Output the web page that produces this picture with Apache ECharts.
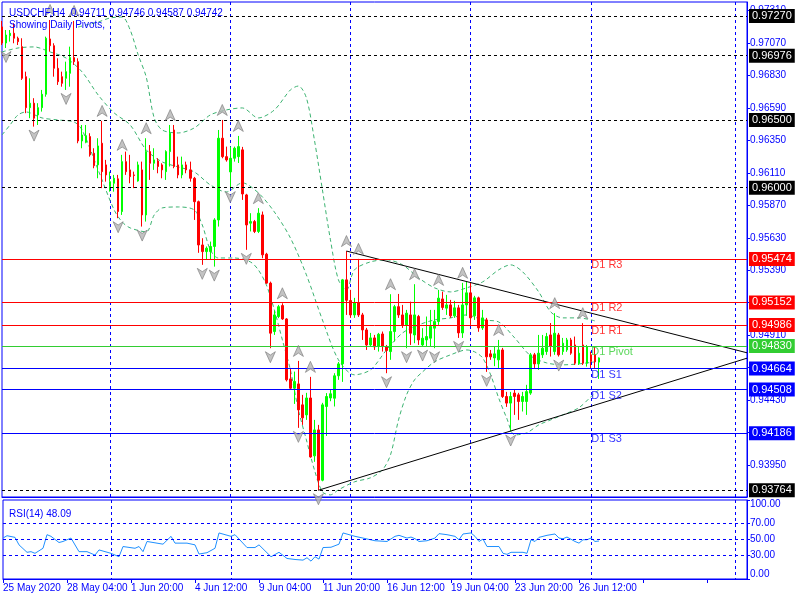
<!DOCTYPE html>
<html><head><meta charset="utf-8">
<script src="https://cdn.jsdelivr.net/npm/echarts@6/dist/echarts.min.js"></script>
<style>html,body{margin:0;padding:0;background:#fff}#c{width:800px;height:600px}</style>
</head><body><div id="c"></div>
<script>
// ---------- DATA ----------
const opens=[.97189,.97070,.97124,.97142,.97105,.97043,.96821,.96592,.96625,.96538,.96592,.96691,.97100,.97050,.96883,.96821,.96809,.96846,.96962,.96932,
.96346,.96336,.96378,.96255,.96169,.96329,.96169,.96008,.96033,.96066,.95824,.96193,.96132,.96095,.96050,.96132,.95799,.96267,.96181,.96198,
.96169,.96119,.96267,.96427,.96169,.96095,.96169,.96132,.96070,.95897,.95577,.95528,.95528,.95566,.95762,.96366,.96230,.96117,.96218,.96230,
.96280,.95947,.95738,.95750,.95677,.95799,.95509,.95295,.94937,.95048,.95129,.95030,.94587,.94518,.94550,.94395,.94321,.94446,.94018,.94210,
.93838,.94383,.94446,.94444,.94610,.94698,.95319,.95166,.95060,.95149,.95060,.94949,.94838,.94890,.94826,.94919,.94826,.94789,.94937,.95121,
.95060,.94986,.95060,.94912,.95048,.94838,.94875,.94888,.94962,.95011,.95178,.95110,.95134,.95053,.95112,.94927,.95134,.95223,.95053,.95186,
.94964,.95023,.94772,.94742,.94728,.94801,.94457,.94408,.94482,.94469,.94420,.94420,.94482,.94765,.94698,.94765,.94789,.94912,.94789,.94912,
.94789,.94801,.94875,.94838,.94703,.94838,.94703,.94765,.94765,.94711];
const highs=[.97233,.97166,.97166,.97216,.97117,.97105,.96858,.96809,.96662,.96625,.96723,.97117,.97240,.97068,.96957,.96858,.96932,.97043,.97233,.96957,
.96464,.96464,.96403,.96292,.96366,.96494,.96206,.96119,.96095,.96095,.96243,.96267,.96243,.96119,.96193,.96193,.96366,.96316,.96292,.96218,
.96181,.96277,.96464,.96464,.96230,.96230,.96193,.96193,.96080,.95905,.95627,.95566,.95602,.95775,.96427,.96501,.96304,.96304,.96304,.96383,
.96302,.95955,.95812,.95762,.95849,.95824,.95519,.95306,.95090,.95134,.95146,.95036,.94666,.94641,.94720,.94469,.94484,.94602,.94284,.94247,
.94410,.94482,.94506,.94629,.94712,.95326,.95532,.95245,.95186,.95474,.95075,.94964,.94927,.94912,.94927,.94937,.94838,.95213,.95134,.95215,
.95134,.95097,.95158,.95287,.95060,.94962,.95048,.95097,.95097,.95245,.95232,.95208,.95171,.95164,.95134,.95297,.95304,.95297,.95201,.95195,
.95097,.95038,.94801,.94824,.94875,.94816,.94491,.94491,.94506,.94484,.94491,.94543,.94779,.94779,.94912,.94912,.94927,.95000,.95073,.94927,
.94890,.94890,.94890,.94900,.94826,.94999,.94838,.94789,.94824,.94746];
const lows=[.97055,.97033,.97080,.97068,.97055,.96797,.96551,.96514,.96452,.96464,.96563,.96673,.97006,.96821,.96760,.96747,.96723,.96747,.96908,.96329,
.96292,.96329,.96230,.96144,.96070,.95997,.96045,.95971,.95971,.95775,.95799,.96095,.96033,.95997,.96045,.95713,.95750,.96058,.96132,.96107,
.96070,.96058,.96157,.96144,.96070,.96070,.96107,.96045,.95762,.95519,.95430,.95467,.95467,.95417,.95713,.96218,.96193,.95997,.96193,.96183,
.95910,.95541,.95677,.95665,.95665,.95479,.95290,.94814,.94912,.95036,.95023,.94568,.94506,.94402,.94225,.94247,.94284,.94004,.93974,.93764,
.93830,.94165,.94422,.94383,.94580,.94565,.95060,.95038,.95038,.95045,.94875,.94801,.94824,.94801,.94789,.94789,.94629,.94728,.94863,.95038,
.94964,.94814,.94838,.94851,.94838,.94826,.94826,.94826,.94814,.94986,.95097,.95060,.95038,.95038,.94890,.94890,.95053,.94986,.95023,.94935,
.94949,.94639,.94728,.94681,.94668,.94446,.94380,.94198,.94321,.94284,.94346,.94321,.94469,.94668,.94654,.94742,.94765,.94752,.94765,.94752,
.94765,.94787,.94765,.94690,.94690,.94690,.94678,.94666,.94668,.94587];
const closes=[.97070,.97129,.97142,.97105,.97080,.96809,.96592,.96625,.96514,.96592,.96691,.97105,.97050,.96883,.96784,.96772,.96858,.96962,.96932,.96346,
.96390,.96385,.96243,.96163,.96309,.96119,.96095,.96045,.96070,.95824,.96193,.96119,.96082,.96090,.96169,.95799,.96267,.96181,.96206,.96157,
.96132,.96267,.96403,.96157,.96095,.96169,.96132,.96070,.95897,.95577,.95528,.95553,.95566,.95762,.96366,.96230,.96206,.96218,.96292,.96304,
.95954,.95725,.95750,.95677,.95812,.95504,.95295,.94925,.95060,.95121,.95030,.94580,.94518,.94568,.94358,.94299,.94446,.94010,.94210,.93838,
.94395,.94457,.94477,.94610,.94698,.95319,.95168,.95060,.95149,.95060,.94949,.94838,.94890,.94824,.94917,.94826,.94797,.94937,.95121,.95060,
.94986,.95073,.94925,.95060,.94875,.94888,.94900,.94974,.95011,.95184,.95115,.95134,.95053,.95112,.94927,.95134,.95223,.95038,.95186,.94964,
.95038,.94750,.94750,.94772,.94801,.94457,.94408,.94457,.94457,.94420,.94457,.94493,.94765,.94698,.94777,.94814,.94900,.94826,.94925,.94765,
.94851,.94875,.94777,.94703,.94777,.94703,.94826,.94715,.94713,.94742];

const slotCount = 187;
const xTickLabels=['25 May 2020','28 May 04:00','1 Jun 20:00','4 Jun 12:00','9 Jun 04:00','11 Jun 20:00','16 Jun 12:00','19 Jun 04:00','23 Jun 20:00','26 Jun 12:00'];
const separatorBars=[27,57,87,117,147,183];
const priceTicks=[0.97310,0.97070,0.96830,0.96590,0.96350,0.96110,0.95870,0.95630,0.95390,0.95150,0.94910,0.94670,0.94430,0.94190,0.93950];
const rsiTicks=[100,70,50,30,0];
const rsiLevels=[70,50,30];

const blackLevels=[0.97270,0.96976,0.96500,0.96000,0.93764];
const resistLevels=[0.95474,0.95152,0.94986];
const pivotLevel=[0.94830];
const supportLevels=[0.94664,0.94508,0.94186];
const resistNames=['D1 R3','D1 R2','D1 R1'];
const pivotNames=['D1 Pivot'];
const supportNames=['D1 S1','D1 S2','D1 S3'];
const pivotLabelBar=147;

const upperTrend=[[86,0.95532],[186,0.94780]];
const lowerTrend=[[79,0.93764],[186,0.94740]];

const fractalUpBars=[12,18,25,30,36,42,55,59,64,70,74,77,86,89,97,103,109,115,124,138,145];
const fractalDownBars=[1,8,16,29,35,50,53,57,61,67,74,79,96,101,105,108,114,121,127,139];

const bbUpper=[[19,.97188],[21,.97203],[24,.97225],[27,.97255],[30,.97262],[32,.97166],[34,.96982],[36,.96819],[38,.96516],[40,.96427],[44,.96405],[48,.96442],[52,.96538],[56,.96575],[60,.96590],[64,.96516],[68,.96575],[72,.96723],[74,.96752],[76,.96664],[78,.96353],[80,.95984],[82,.95615],[84,.95319],[86,.95245],[88,.95393],[92,.95452],[96,.95467],[100,.95430],[104,.95334],[108,.95260],[112,.95230],[116,.95260],[120,.95304],[124,.95393],[127,.95430],[130,.95378],[134,.95230],[137,.95082],[140,.95038],[144,.95038],[148,.95016]];
const bbMiddle=[[0,.97004],[4,.97033],[8,.97041],[12,.97004],[16,.96959],[20,.96856],[24,.96686],[28,.96553],[32,.96464],[36,.96280],[40,.96191],[44,.96154],[48,.96117],[52,.96021],[56,.95969],[60,.96036],[64,.95962],[68,.95821],[72,.95629],[76,.95356],[80,.95023],[84,.94728],[88,.94617],[92,.94654],[96,.94801],[100,.94927],[104,.94986],[108,.95023],[112,.95038],[116,.95060],[120,.95023],[124,.95008],[128,.94890],[132,.94757],[136,.94705],[140,.94691],[144,.94698],[148,.94713]];
const bbLower=[[0,.96390],[2,.96464],[4,.96538],[6,.96560],[10,.96516],[14,.96501],[18,.96486],[20,.96427],[24,.96132],[28,.95836],[30,.95747],[32,.95703],[36,.95674],[38,.95799],[40,.95851],[44,.95858],[48,.95836],[50,.95725],[52,.95541],[54,.95481],[58,.95481],[62,.95452],[64,.95393],[66,.95282],[68,.95097],[70,.94875],[72,.94654],[74,.94358],[76,.94136],[78,.93915],[80,.93752],[82,.93730],[84,.93767],[88,.93826],[92,.93856],[95,.93915],[97,.94026],[99,.94284],[101,.94469],[103,.94580],[105,.94639],[108,.94713],[112,.94765],[116,.94801],[118,.94787],[120,.94742],[122,.94617],[124,.94446],[126,.94298],[128,.94173],[131,.94188],[134,.94247],[137,.94284],[140,.94321],[144,.94373],[147,.94454],[149,.94506]];

const rsiValues=[[0,51.8],[1,54.8],[3,52.7],[4,43.2],[6,33.8],[7,34.6],[8,32.5],[10,38.9],[11,56.1],[12,54],[14,46.2],[15,47.5],[17,51.8],[19,34.6],[21,34.6],[23,30.3],[24,36.8],[27,32.5],[29,28.2],[30,41.1],[33,38.9],[34,41.1],[35,34.6],[36,47.5],[40,44.1],[42,54],[43,45.4],[46,45.4],[48,43.2],[49,31.6],[51,33.3],[53,38.9],[54,58.3],[57,54],[58,56.1],[61,39.8],[63,39.8],[64,43.2],[67,28.2],[69,33.8],[71,26],[73,24.7],[75,23.9],[76,26.9],[77,22.6],[78,28.2],[79,25.2],[80,39.8],[82,40.2],[84,44.1],[85,58.3],[88,54],[90,51.8],[93,48.4],[96,47.5],[98,54],[99,55.3],[101,51.8],[102,53.1],[103,51],[104,47.5],[106,48.4],[108,51.8],[109,57.4],[111,56.1],[113,54],[114,49.7],[115,57],[117,58.3],[118,54],[119,47.5],[120,50.5],[121,41.1],[124,41.1],[125,32.5],[126,31.2],[127,33.8],[130,33.8],[131,32.5],[132,49.7],[133,47.5],[134,52.7],[136,55.3],[138,57],[139,51.8],[140,51],[141,53.1],[143,47.5],[144,45.4],[145,49.7],[146,49.7],[147,51.8],[148,47.5],[149,48.09]];

const headerText='USDCHF,H4  0.94711 0.94746 0.94587 0.94742';
const subHeaderText='Showing Daily Pivots,';
const rsiTitle='RSI(14) 48.09';

// ---------- STYLE ----------
const BLUE='#0000ff', RED='#ff0000', GREEN='#32cd32', BAND='#3cb371';
const FONT='Liberation Sans, Arial, sans-serif';
const FS=10;
const cats=Array.from({length:slotCount},(_,i)=>String(i));
const candleData=opens.map((o,i)=>[o,closes[i],lows[i],highs[i]]);

function levelLine(v,color,dashed){
  return {yAxis:v,lineStyle:{color:color,width:1,type:dashed?[3,3]:'solid'},
    label:{show:true,position:'end',distance:2,formatter:()=>v.toFixed(5),color:'#fff',backgroundColor:color,
      padding:[1,3,1,3],fontSize:11,lineHeight:12,fontFamily:FONT}};
}
const markData=[]
  .concat(blackLevels.map(v=>levelLine(v,'#000',true)))
  .concat(resistLevels.map(v=>levelLine(v,RED,false)))
  .concat(pivotLevel.map(v=>levelLine(v,GREEN,false)))
  .concat(supportLevels.map(v=>levelLine(v,BLUE,false)));

const pivotTextData=[]
  .concat(resistLevels.map((v,i)=>({value:[pivotLabelBar,v],name:resistNames[i],label:{color:RED}})))
  .concat(pivotLevel.map((v,i)=>({value:[pivotLabelBar,v],name:pivotNames[i],label:{color:GREEN}})))
  .concat(supportLevels.map((v,i)=>({value:[pivotLabelBar,v],name:supportNames[i],label:{color:BLUE}})));

const sepInterval=(idx)=>separatorBars.indexOf(idx)>=0;

const xBase=(gi,showLabels)=>({
  type:'category',gridIndex:gi,data:cats,boundaryGap:false,
  axisLine:{show:true,lineStyle:{color:BLUE}},
  axisTick:{show:showLabels,interval:15,length:4,lineStyle:{color:BLUE}},
  axisLabel:{show:showLabels,interval:15,align:'left',margin:4,color:BLUE,fontSize:FS,fontFamily:FONT,
    formatter:(v,idx)=>{const j=idx/16;return Number.isInteger(j)&&xTickLabels[j]?xTickLabels[j]:'';}},
  splitLine:{show:true,interval:sepInterval,lineStyle:{color:BLUE,type:[3,3],width:1}}
});

const option={
  animation:false,
  backgroundColor:'#ffffff',
  title:[
    {text:headerText,left:4,top:3,textStyle:{fontSize:FS,color:BLUE,fontWeight:'normal',fontFamily:FONT}},
    {text:subHeaderText,left:4,top:15,textStyle:{fontSize:FS,color:BLUE,fontWeight:'normal',fontFamily:FONT}},
    {text:rsiTitle,left:4,top:504,textStyle:{fontSize:FS,color:BLUE,fontWeight:'normal',fontFamily:FONT}}
  ],
  grid:[
    {left:2,right:53,top:2,height:495,show:true,borderColor:BLUE,borderWidth:1,backgroundColor:'transparent'},
    {left:2,right:53,top:500,height:79,show:true,borderColor:BLUE,borderWidth:1,backgroundColor:'transparent'}
  ],
  xAxis:[xBase(0,false),xBase(1,true)],
  yAxis:[
    {type:'value',gridIndex:0,position:'right',min:0.93714,max:0.97373,
      axisLine:{show:true,lineStyle:{color:BLUE}},
      axisTick:{show:true,length:3,customValues:priceTicks,lineStyle:{color:BLUE}},
      axisLabel:{customValues:priceTicks,margin:3,color:BLUE,fontSize:FS,fontFamily:FONT,formatter:v=>v.toFixed(5)},
      splitLine:{show:false}},
    {type:'value',gridIndex:1,position:'right',min:0,max:100,
      axisLine:{show:true,lineStyle:{color:BLUE}},
      axisTick:{show:true,length:3,customValues:rsiTicks,lineStyle:{color:BLUE}},
      axisLabel:{customValues:rsiTicks,margin:3,color:BLUE,fontSize:FS,fontFamily:FONT,
        formatter:v=>v===100?'{t|100.00}':(v===0?'{b|0.00}':v.toFixed(2)),
        rich:{t:{padding:[9,0,0,0],color:BLUE,fontSize:FS,fontFamily:FONT},b:{padding:[0,0,9,0],color:BLUE,fontSize:FS,fontFamily:FONT}}},
      splitLine:{show:false}}
  ],
  series:[
    {name:'bbUpper',type:'line',xAxisIndex:0,yAxisIndex:0,data:bbUpper,showSymbol:false,smooth:0.3,z:1,
      lineStyle:{color:BAND,width:1,type:[4,3]}},
    {name:'bbMiddle',type:'line',xAxisIndex:0,yAxisIndex:0,data:bbMiddle,showSymbol:false,smooth:0.3,z:1,
      lineStyle:{color:BAND,width:1,type:[4,3]}},
    {name:'bbLower',type:'line',xAxisIndex:0,yAxisIndex:0,data:bbLower,showSymbol:false,smooth:0.3,z:1,
      lineStyle:{color:BAND,width:1,type:[4,3]}},
    {name:'price',type:'candlestick',xAxisIndex:0,yAxisIndex:0,data:candleData,barWidth:2,z:3,
      itemStyle:{color:'#00ff00',color0:RED,borderColor:'#00ff00',borderColor0:RED,borderWidth:1}},
    {name:'upperTrend',type:'line',xAxisIndex:0,yAxisIndex:0,data:upperTrend,showSymbol:false,z:4,
      lineStyle:{color:'#000',width:1},
      markLine:{symbol:'none',silent:true,precision:5,data:markData}},
    {name:'lowerTrend',type:'line',xAxisIndex:0,yAxisIndex:0,data:lowerTrend,showSymbol:false,z:4,
      lineStyle:{color:'#000',width:1}},
    {name:'fractalUp',type:'scatter',xAxisIndex:0,yAxisIndex:0,z:5,
      data:fractalUpBars.map(i=>[i,highs[i]]),
      symbol:'path://M5,0 L10,10 L5,7 L0,10 Z',symbolSize:[10,11],symbolOffset:[0,-10],
      itemStyle:{color:'#b4b4b4',borderColor:'#787878',borderWidth:0.8}},
    {name:'fractalDown',type:'scatter',xAxisIndex:0,yAxisIndex:0,z:5,
      data:fractalDownBars.map(i=>[i,lows[i]]),
      symbol:'path://M0,0 L5,3 L10,0 L5,10 Z',symbolSize:[10,11],symbolOffset:[0,9],
      itemStyle:{color:'#b4b4b4',borderColor:'#787878',borderWidth:0.8}},
    {name:'pivotText',type:'scatter',xAxisIndex:0,yAxisIndex:0,z:6,symbolSize:1,
      itemStyle:{color:'rgba(0,0,0,0)'},data:pivotTextData,
      label:{show:true,position:[1,1],align:'left',verticalAlign:'top',fontSize:11,fontFamily:FONT,formatter:p=>p.name}},
    {name:'rsi',type:'line',xAxisIndex:1,yAxisIndex:1,data:rsiValues,showSymbol:false,connectNulls:true,z:3,
      lineStyle:{color:'#1e90ff',width:1},
      markLine:{symbol:'none',silent:true,label:{show:false},lineStyle:{color:BLUE,type:[3,3],width:1},
        data:rsiLevels.map(v=>({yAxis:v}))}}
  ]
};
const chart=echarts.init(document.getElementById('c'));
chart.setOption(option);
</script></body></html>
